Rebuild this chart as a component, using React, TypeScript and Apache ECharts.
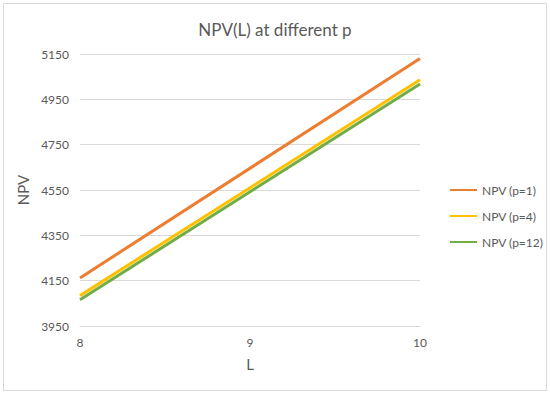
import React, { useEffect, useRef } from "react";
import * as echarts from "echarts";

const L_VALUES = [8, 10];
const NPV_P1 = [4162, 5130];
const NPV_P4 = [4084, 5036];
const NPV_P12 = [4066, 5018];
const SERIES_NAMES = ["NPV (p=1)", "NPV (p=4)", "NPV (p=12)"];
const COLORS = ["#ED7D31", "#FFC000", "#70AD47"];
const Y_MIN = 3950;
const Y_MAX = 5150;
const Y_STEP = 200;

const FONT = "Lato";

export default function App() {
  const ref = useRef<HTMLDivElement>(null);
  useEffect(() => {
    document.body.style.margin = "0";
    if (!ref.current) return;
    const chart = echarts.init(ref.current, undefined, { renderer: "svg" });
    const all = [NPV_P1, NPV_P4, NPV_P12];
    const series = all.map((vals, i) => ({
      name: SERIES_NAMES[i],
      type: "line",
      data: L_VALUES.map((l, j) => [l, vals[j] - Y_MIN]),
      showSymbol: false,
      symbol: "none",
      lineStyle: { width: 3, color: COLORS[i] },
      itemStyle: { color: COLORS[i] },
      z: 3 - i,
    }));
    chart.setOption({
      animation: false,
      textStyle: { fontFamily: FONT },
      title: {
        text: "NPV(L) at different p",
        left: "center",
        top: 16,
        textStyle: { fontFamily: FONT, fontSize: 17, fontWeight: "normal", color: "#595959" },
      },
      grid: { left: 80, right: 130, top: 54, bottom: 68 },
      xAxis: {
        type: "value",
        min: 8,
        max: 10,
        interval: 1,
        name: "L",
        nameLocation: "middle",
        nameGap: 30,
        nameTextStyle: { fontFamily: FONT, fontSize: 15, color: "#595959" },
        axisLine: { show: true, lineStyle: { color: "#d9d9d9", width: 1 } },
        axisTick: { show: false },
        splitLine: { show: false },
        axisLabel: { color: "#595959", fontSize: 12, fontFamily: FONT, margin: 10 },
      },
      yAxis: {
        type: "value",
        min: 0,
        max: Y_MAX - Y_MIN,
        interval: Y_STEP,
        name: "NPV",
        nameLocation: "middle",
        nameGap: 38,
        nameTextStyle: { fontFamily: FONT, fontSize: 15, color: "#595959" },
        axisLine: { show: false },
        axisTick: { show: false },
        splitLine: { show: true, lineStyle: { color: "#d9d9d9", width: 1 } },
        axisLabel: {
          color: "#595959",
          fontSize: 12,
          fontFamily: FONT,
          margin: 11,
          formatter: (v: number) => String(v + Y_MIN),
        },
      },
      legend: {
        orient: "vertical",
        left: 445,
        top: 179,
        itemWidth: 27,
        itemHeight: 12,
        itemGap: 14,
        icon: "path://M0,5 L27,5 L27,7 L0,7 Z",
        data: SERIES_NAMES,
        textStyle: { fontFamily: FONT, fontSize: 12, color: "#595959" },
      },
      graphic: [
        {
          type: "rect",
          shape: { x: 3.5, y: 3.5, width: 543, height: 387 },
          style: { fill: "none", stroke: "#d9d9d9", lineWidth: 1 },
          silent: true,
        },
      ],
      series,
    });
    return () => chart.dispose();
  }, []);
  return <div ref={ref} style={{ width: 550, height: 394 }} />;
}
